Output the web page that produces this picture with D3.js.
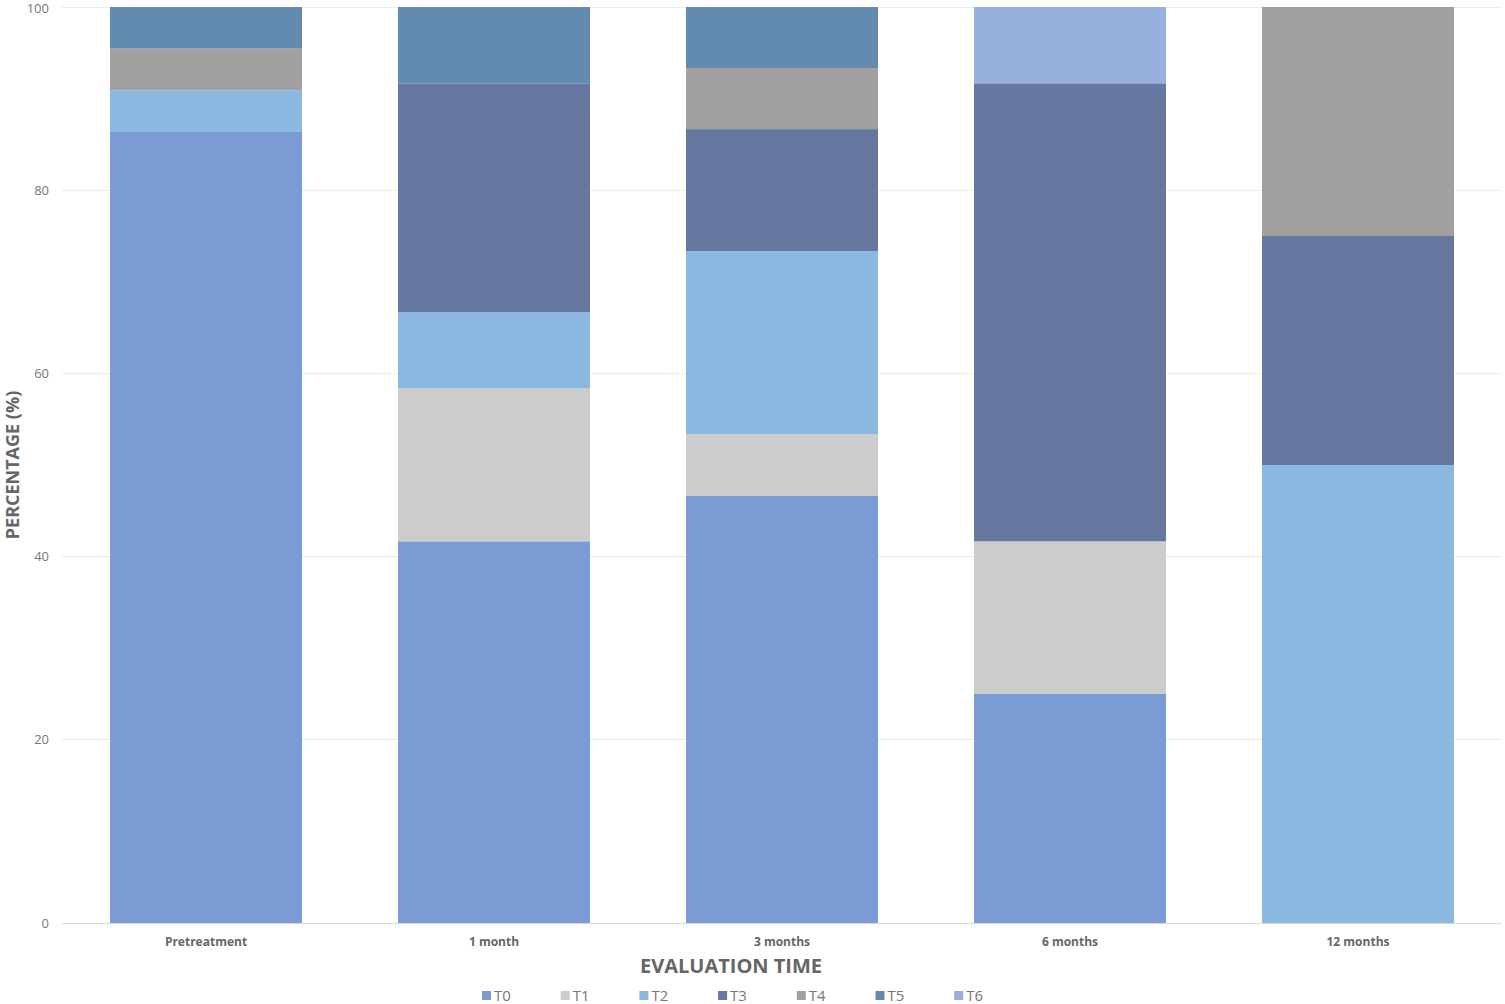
<!DOCTYPE html>
<html><head><meta charset="utf-8">
<script src="https://cdn.jsdelivr.net/npm/d3@7"></script>
<style>body{margin:0;background:#fff;font-family:"Open Sans",sans-serif;}</style>
</head><body>
<svg id="c" width="1505" height="1004"></svg>
<script>
const categories = ["Pretreatment","1 month","3 months","6 months","12 months"];
const seriesNames = ["T0","T1","T2","T3","T4","T5","T6"];
const T0 = [86.36, 41.67, 46.67, 25.0, 0];
const T1 = [0, 16.67, 6.67, 16.67, 0];
const T2 = [4.55, 8.33, 20.0, 0, 50.0];
const T3 = [0, 25.0, 13.33, 50.0, 25.0];
const T4 = [4.55, 0, 6.67, 0, 25.0];
const T5 = [4.54, 8.33, 6.66, 0, 0];
const T6 = [0, 0, 0, 8.33, 0];
const yTicks = [0,20,40,60,80,100];
const colors = ["#7b9bd5","#cccccc","#8bb8e1","#66789f","#a0a0a0","#638bb0","#97b1df"];

const seriesVals = [T0,T1,T2,T3,T4,T5,T6];
const rows = categories.map((c,i)=>{const r={cat:c}; seriesNames.forEach((s,j)=>r[s]=seriesVals[j][i]); return r;});
const stack = d3.stack().keys(seriesNames)(rows);

const svg = d3.select("#c");
const x = d3.scaleBand().domain(categories).range([62,1502]).paddingInner(1/3).paddingOuter(1/6);
const y = d3.scaleLinear().domain([0,100]).range([923,7]);

// gridlines
svg.append("g").selectAll("line").data(yTicks).join("line")
  .attr("x1",62).attr("x2",1502).attr("y1",d=>y(d)).attr("y2",d=>y(d))
  .attr("stroke",d=>d===0?"#d9d9d9":"#ececec").attr("stroke-width",1).attr("shape-rendering","crispEdges");

// y tick labels
svg.append("g").selectAll("text").data(yTicks).join("text")
  .attr("x",49).attr("y",d=>Math.max(y(d),8)).attr("dy","0.35em").attr("text-anchor","end")
  .attr("font-size",13).attr("fill","#777").text(d=>d);

// bars
svg.append("g").selectAll("g").data(stack).join("g").attr("fill",(d,i)=>colors[i])
  .selectAll("rect").data(d=>d).join("rect")
  .attr("x",d=>x(d.data.cat)).attr("width",x.bandwidth())
  .attr("y",d=>y(d[1])).attr("height",d=>y(d[0])-y(d[1]));

// x labels
svg.append("g").selectAll("text").data(categories).join("text")
  .attr("x",d=>x(d)+x.bandwidth()/2).attr("y",946).attr("text-anchor","middle")
  .attr("font-size",12).attr("font-weight","bold").attr("fill","#666").text(d=>d);

// axis titles
svg.append("text").attr("x",731).attr("y",973).attr("text-anchor","middle")
  .attr("font-size",20).attr("font-weight","bold").attr("fill","#666").text("EVALUATION TIME");
svg.append("text").attr("transform","translate(19,465) rotate(-90)").attr("text-anchor","middle")
  .attr("font-size",18).attr("font-weight","bold").attr("fill","#666").text("PERCENTAGE (%)");

// legend
const lg = svg.append("g").selectAll("g").data(seriesNames).join("g")
  .attr("transform",(d,i)=>`translate(${482+i*78.7},991)`);
lg.append("rect").attr("width",9).attr("height",9).attr("fill",(d,i)=>colors[i]);
lg.append("text").attr("x",12).attr("y",4.5).attr("dy","0.35em").attr("font-size",15).attr("fill","#777").text(d=>d);
</script>
</body></html>
